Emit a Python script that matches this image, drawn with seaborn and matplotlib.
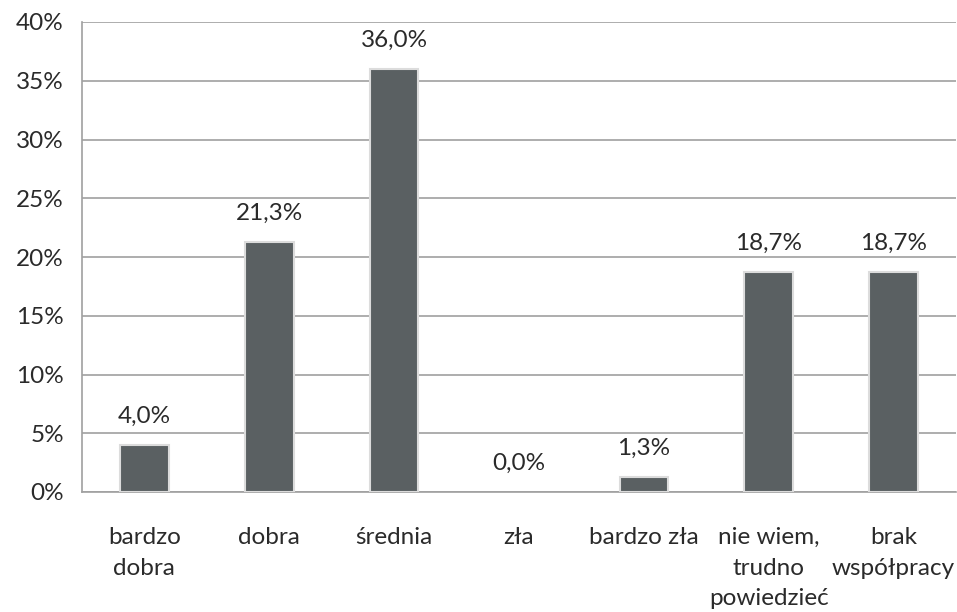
import matplotlib
matplotlib.use("Agg")
import matplotlib.pyplot as plt
import seaborn as sns
import pandas as pd
from matplotlib.ticker import FixedLocator, PercentFormatter

categories = ["bardzo\ndobra", "dobra", "średnia", "zła", "bardzo zła",
              "nie wiem,\ntrudno\npowiedzieć", "brak\nwspółpracy"]
values = [4.0, 21.3, 36.0, 0.0, 1.3, 18.7, 18.7]
value_labels = ["4,0%", "21,3%", "36,0%", "0,0%", "1,3%", "18,7%", "18,7%"]
yticks = [0, 5, 10, 15, 20, 25, 30, 35, 40]

sns.set_style("white")
plt.rcParams['font.family'] = ['Lato', 'DejaVu Sans']

df = pd.DataFrame({"cat": categories, "val": values})

fig = plt.figure(figsize=(9.57, 6.12), dpi=100)
ax = fig.add_axes([82/957, 1-492/612, 874/957, 470/612])

sns.barplot(data=df, x="cat", y="val", color="#5a6062", width=0.39,
            edgecolor="#dcdcdc", linewidth=1.5, saturation=1, ax=ax, zorder=3)
for p in ax.patches:
    if p.get_height() == 0:
        p.set_linewidth(0)

ax.set_ylim(0, 40)
ax.set_xlim(-0.5, len(categories) - 0.5)
ax.set_yticks(yticks)
ax.yaxis.set_major_formatter(PercentFormatter(decimals=0))
ax.yaxis.grid(True, color="#a0a0a0", linewidth=1.2, zorder=0)
ax.set_axisbelow(True)

fs = 17.5
ax.xaxis.set_major_locator(FixedLocator(range(len(categories))))
ax.set_xticklabels(categories, linespacing=1.58)
ax.xaxis.set_minor_locator(FixedLocator([i - 0.5 for i in range(len(categories) + 1)]))
ax.tick_params(axis="x", which="major", length=0, pad=25, labelsize=fs, labelcolor="#2a2a2a")
ax.tick_params(axis="x", which="minor", length=10, width=1.2, color="#a0a0a0", direction="out")
ax.tick_params(axis="y", length=10, width=1.2, color="#a0a0a0", direction="out",
               labelsize=fs, labelcolor="#2a2a2a", pad=3)

for s in ["top", "right"]:
    ax.spines[s].set_visible(False)
for s in ["left", "bottom"]:
    ax.spines[s].set_color("#a0a0a0")
    ax.spines[s].set_linewidth(1.2)

for i, (v, t) in enumerate(zip(values, value_labels)):
    ax.text(i, v + 2.45, t, ha="center", va="center", fontsize=fs, color="#2a2a2a")

ax.set_xlabel("")
ax.set_ylabel("")
fig.savefig("out.png", dpi=100)
